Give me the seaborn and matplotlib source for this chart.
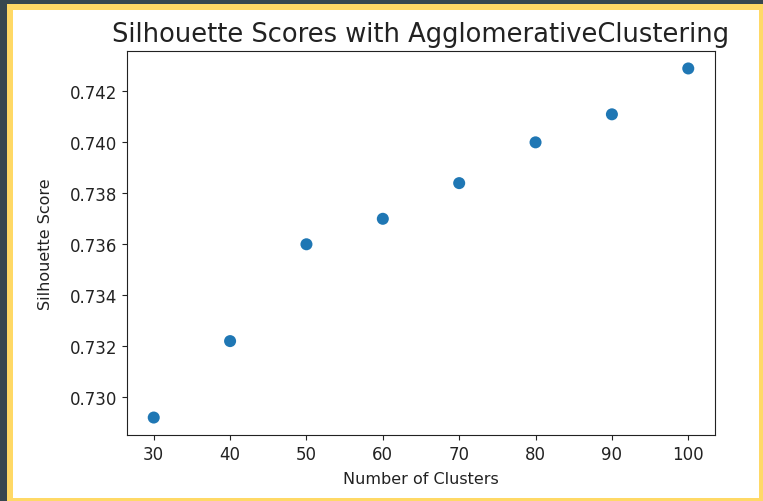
import matplotlib
matplotlib.use('Agg')
import matplotlib.pyplot as plt
import seaborn as sns
import pandas as pd
from matplotlib.patches import Rectangle

# cluster counts and silhouette scores
n_clusters = [30, 40, 50, 60, 70, 80, 90, 100]
scores = [0.7292, 0.7322, 0.7360, 0.7370, 0.7384, 0.7400, 0.7411, 0.7429]

df = pd.DataFrame({'n_clusters': n_clusters, 'score': scores})

W, H = 763, 502
fig = plt.figure(figsize=(W / 100, H / 100), dpi=100, facecolor='#37474f')

# screenshot frame: yellow border, white inside (kept behind the axes)
fig.patches.append(Rectangle((7 / W, 0), 1 - 7 / W, 1 - 5 / H, transform=fig.transFigure,
                             facecolor='#ffd966', edgecolor='none', zorder=-2))
fig.patches.append(Rectangle((13 / W, 3 / H), (759 - 13) / W, (499 - 11) / H,
                             transform=fig.transFigure, facecolor='white', edgecolor='none', zorder=-1))

ax = fig.add_axes([127 / W, 1 - 436 / H, (715 - 127) / W, (436 - 52) / H])
sns.scatterplot(data=df, x='n_clusters', y='score', ax=ax, s=75, color='#1f77b4',
                edgecolor='none', linewidth=0)

ax.set_title('Silhouette Scores with AgglomerativeClustering', fontsize=18.5, color='#222222', pad=7)
ax.set_xlabel('Number of Clusters', fontsize=11.5, color='#222222', labelpad=6)
ax.set_ylabel('Silhouette Score', fontsize=11.5, color='#222222', labelpad=12)
ax.set_xticks([30, 40, 50, 60, 70, 80, 90, 100])
ax.set_yticks([0.730, 0.732, 0.734, 0.736, 0.738, 0.740, 0.742])
ax.yaxis.set_major_formatter(matplotlib.ticker.FormatStrFormatter('%.3f'))
ax.tick_params(labelsize=12, colors='#222222')
for sp in ax.spines.values():
    sp.set_color('#222222')

fig.savefig('out.png', dpi=100, facecolor=fig.get_facecolor())
